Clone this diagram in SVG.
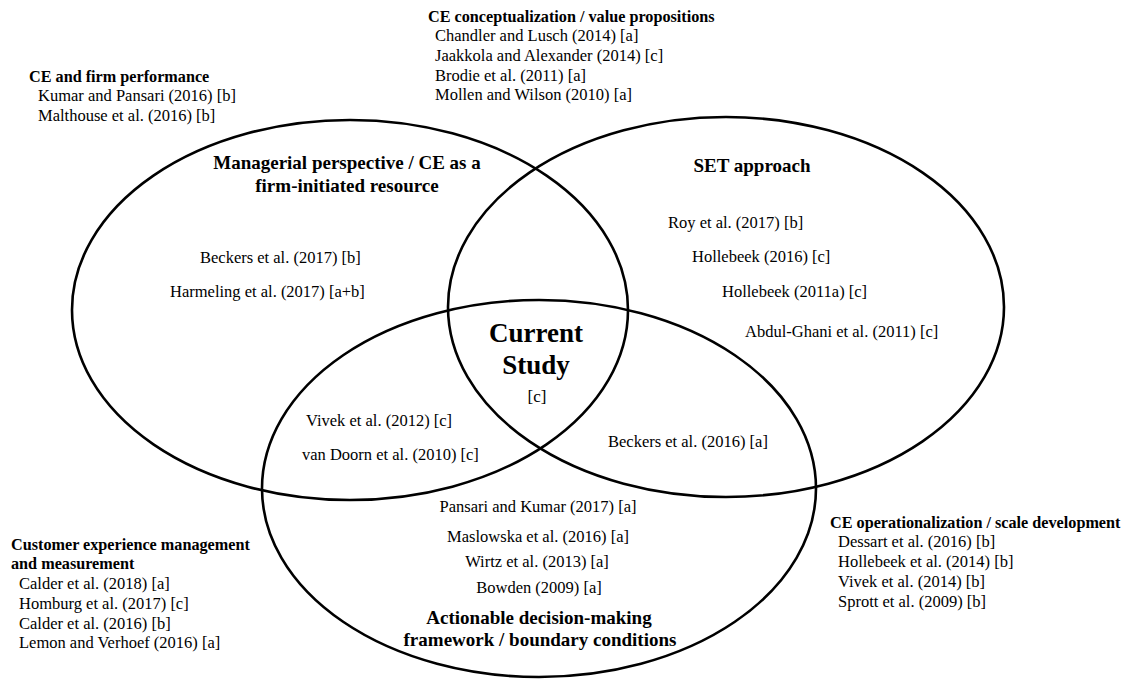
<svg xmlns="http://www.w3.org/2000/svg" width="1128" height="680" viewBox="0 0 1128 680">
<style>
.set{fill:none;stroke:#000;stroke-width:2.6}
text{font-family:"Liberation Serif","Times New Roman",serif;fill:#000}
.ref{font-size:16.5px}
.hd{font-size:16.2px;font-weight:bold}
.ti{font-size:19px;font-weight:bold;text-anchor:middle}
.c{text-anchor:middle}
</style>
<rect width="1128" height="680" fill="#fff"/>
<g id="set-managerial">
<ellipse class="set" cx="350" cy="310" rx="278" ry="190"/>
<text class="ti" x="347" y="169">Managerial perspective / CE as a</text>
<text class="ti" x="347" y="192">firm-initiated resource</text>
<text class="ref" x="200" y="263">Beckers et al. (2017) [b]</text>
<text class="ref" x="170" y="297">Harmeling et al. (2017) [a+b]</text>
</g>
<g id="set-set">
<ellipse class="set" cx="726" cy="307" rx="278" ry="190"/>
<text class="ti" x="752" y="172">SET approach</text>
<text class="ref" x="668" y="228">Roy et al. (2017) [b]</text>
<text class="ref" x="692" y="262">Hollebeek (2016) [c]</text>
<text class="ref" x="722" y="297">Hollebeek (2011a) [c]</text>
<text class="ref" x="745" y="337">Abdul-Ghani et al. (2011) [c]</text>
</g>
<g id="set-actionable">
<ellipse class="set" cx="539" cy="488.5" rx="277" ry="188.5"/>
<text class="ref c" x="538" y="512">Pansari and Kumar (2017) [a]</text>
<text class="ref c" x="538" y="542">Maslowska et al. (2016) [a]</text>
<text class="ref c" x="537" y="567">Wirtz et al. (2013) [a]</text>
<text class="ref c" x="539" y="593">Bowden (2009) [a]</text>
<text class="ti" x="539" y="624">Actionable decision-making</text>
<text class="ti" x="540" y="646">framework / boundary conditions</text>
</g>
<g id="overlap-managerial-actionable">
<text class="ref" x="306" y="426">Vivek et al. (2012) [c]</text>
<text class="ref" x="302" y="460">van Doorn et al. (2010) [c]</text>
</g>
<g id="overlap-set-actionable">
<text class="ref" x="608" y="447">Beckers et al. (2016) [a]</text>
</g>
<g id="current-study">
<text x="536" y="342" style="font-size:27px;font-weight:bold" class="c">Current</text>
<text x="536" y="374" style="font-size:27px;font-weight:bold" class="c">Study</text>
<text x="537" y="402" style="font-size:17px" class="c">[c]</text>
</g>
<g id="label-firm-performance">
<text class="hd" x="29" y="82">CE and firm performance</text>
<text class="ref" x="38" y="101">Kumar and Pansari (2016) [b]</text>
<text class="ref" x="38" y="121">Malthouse et al. (2016) [b]</text>
</g>
<g id="label-conceptualization">
<text class="hd" x="428" y="22">CE conceptualization / value propositions</text>
<text class="ref" x="435" y="41">Chandler and Lusch (2014) [a]</text>
<text class="ref" x="435" y="61">Jaakkola and Alexander (2014) [c]</text>
<text class="ref" x="435" y="81">Brodie et al. (2011) [a]</text>
<text class="ref" x="435" y="100">Mollen and Wilson (2010) [a]</text>
</g>
<g id="label-customer-experience">
<text class="hd" x="11" y="550">Customer experience management</text>
<text class="hd" x="11" y="569">and measurement</text>
<text class="ref" x="19" y="589">Calder et al. (2018) [a]</text>
<text class="ref" x="19" y="609">Homburg et al. (2017) [c]</text>
<text class="ref" x="19" y="629">Calder et al. (2016) [b]</text>
<text class="ref" x="19" y="648">Lemon and Verhoef (2016) [a]</text>
</g>
<g id="label-operationalization">
<text class="hd" x="830" y="528">CE operationalization / scale development</text>
<text class="ref" x="838" y="547">Dessart et al. (2016) [b]</text>
<text class="ref" x="838" y="567">Hollebeek et al. (2014) [b]</text>
<text class="ref" x="838" y="587">Vivek et al. (2014) [b]</text>
<text class="ref" x="838" y="607">Sprott et al. (2009) [b]</text>
</g>
<g id="connectors"/>
</svg>
